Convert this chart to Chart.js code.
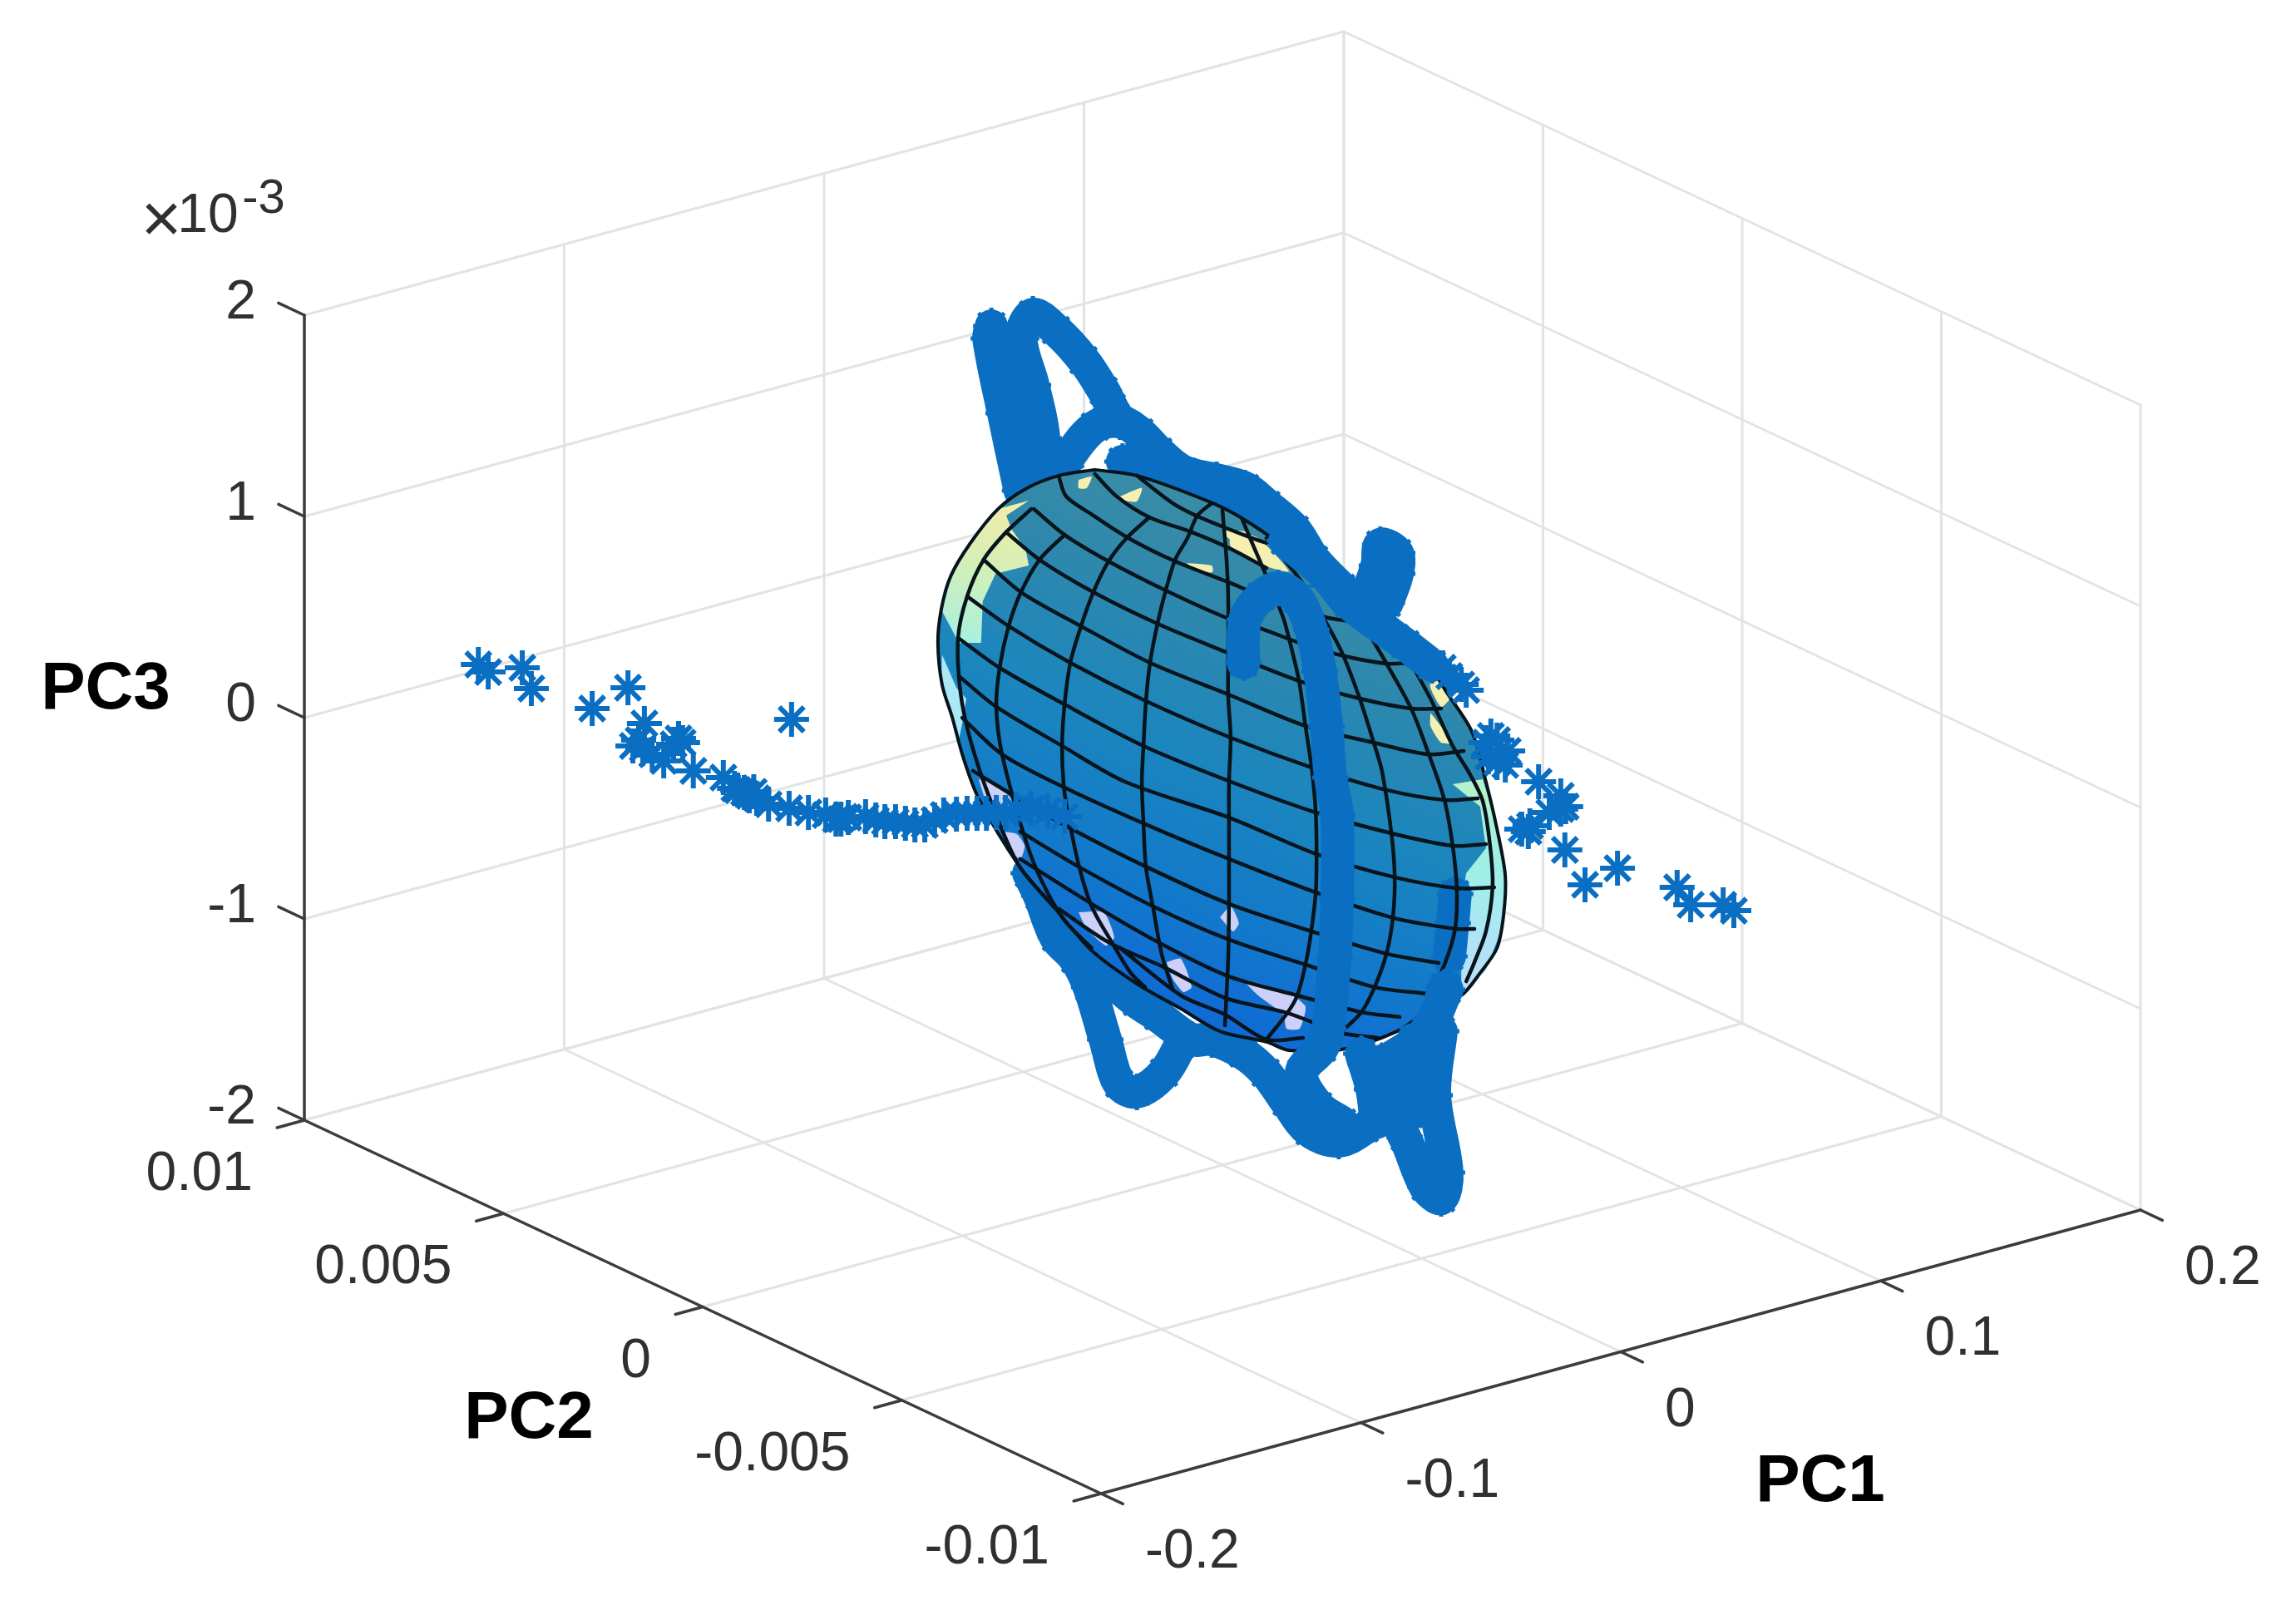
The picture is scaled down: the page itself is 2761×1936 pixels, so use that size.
<!DOCTYPE html>
<html lang="en">
<head>
    <meta charset="UTF-8">
    <title>PC1 PC2 PC3</title>
    <style>
        html, body { margin: 0; background: #fff; }
        #wrap { width: 2761px; height: 1936px; }
    </style>
</head>
<body>
<div id="wrap"><canvas id="myChart"></canvas></div>

<script src="https://cdn.jsdelivr.net/npm/chart.js"></script>
<script>
    // axis ticks
    const pc1Ticks = [-0.2, -0.1, 0, 0.1, 0.2];
    const pc2Ticks = [-0.01, -0.005, 0, 0.005, 0.01];
    const pc3Ticks = [-2, -1, 0, 1, 2]; // x 10^-3
    const pc1TickLabels = ["-0.2", "-0.1", "0", "0.1", "0.2"];
    const pc2TickLabels = ["-0.01", "-0.005", "0", "0.005", "0.01"];
    const pc3TickLabels = ["-2", "-1", "0", "1", "2"];

    // The picture gives no depth, so every mark below is read as PC1 / PC3 on the
    // upright plane through the origin that faces the camera (pc2 = facingPlane * pc1).
    const facingPlane = -0.03797;

    // stars, left tail
    const leftTailPc1 = [-.1810,-.1786,-.1703,-.1681,-.1533,-.1446,-.1406,-.1434,-.1410,-.1420,-.1323,-.1313,-.1335,-.1359,-.1387,-.1287,-.1214,-.1187,-.1179,-.1163,-.1151,-.1140,-.1133,-.1104,-.1054,-.1007,-.0965,-.0940,-.0928,-.0910,-.0868,-.0843,-.0821,-.0795,-.0771,-.0748,-.0724,-.0700,-.0678,-.0647,-.0621,-.0597,-.0574,-.0550,-.0528,-.0502,-.0465,-.0425,-.0384,-.1048];
    const leftTailPc3 = [.488,.450,.471,.368,.269,.372,.194,.083,.070,.112,.120,.099,.091,.008,.041,-.041,-.074,-.128,-.136,-.149,-.165,-.145,-.178,-.207,-.227,-.248,-.260,-.281,-.281,-.273,-.269,-.285,-.293,-.293,-.302,-.310,-.310,-.285,-.260,-.256,-.252,-.252,-.252,-.248,-.248,-.231,-.227,-.240,-.269,.215];

    // stars, right tail
    const rightTailPc1 = [.0536,.0552,.0581,.0593,.0641,.0653,.0668,.0668,.0694,.0688,.0668,.0647,.0769,.0823,.0835,.0823,.0795,.0748,.0728,.0744,.0833,.0961,.0882,.1106,.1139,.1218,.1244];
    const rightTailPc3 = [.471,.430,.388,.360,.099,.132,.041,.112,.058,-.012,0,.029,-.095,-.165,-.219,-.231,-.248,-.314,-.331,-.343,-.434,-.525,-.607,-.620,-.707,-.707,-.736];

    // dense star trajectories that pass behind the ellipsoid
    const backBandPc1 = [
        [-.0492,-.0532,-.0568,-.0562],
        [-.0469,-.0496,-.0526],
        [-.0445,-.0435,-.0461,-.0490,-.0461,-.0405,-.0338,-.0289,-.0269,-.0249],
        [-.0405,-.0370,-.0310,-.0249,-.0202,-.0156,-.0095,-.0014,.0055,.0107,.0176,.0223,.0289,.0358,.0419,.0479,.0536],
        [-.0243,-.0142,-.0020,.0101],
        [.0344,.0376,.0384,.0425,.0425,.0400],
        [-.0471,-.0445,-.0405,-.0358,-.0324,-.0285,-.0251,-.0208,-.0142,-.0095],
        [-.0445,-.0364,-.0283,-.0182],
        [-.0358,-.0289,-.0208,-.0156,-.0075,-.0026,.0051,.0105,.0156,.0212,.0283,.0346,.0400,.0443,.0494,.0532,.0546,.0516,.0532]
    ];
    const backBandPc3 = [
        [1.351,1.736,2.107,2.169],
        [1.393,1.723,2.054],
        [1.393,1.612,1.876,2.107,2.227,2.149,2.000,1.847,1.764,1.694],
        [1.393,1.529,1.669,1.694,1.640,1.545,1.446,1.405,1.364,1.281,1.157,1.008,.868,.731,.620,.512,.421],
        [1.496,1.475,1.351,1.207],
        [.793,.979,1.083,1.041,.938,.793],
        [-.550,-.661,-.868,-.975,-1.116,-1.376,-1.595,-1.636,-1.541,-1.376],
        [-.591,-.818,-.983,-1.149],
        [-.975,-1.058,-1.190,-1.260,-1.376,-1.376,-1.446,-1.541,-1.686,-1.831,-1.880,-1.818,-1.736,-1.860,-2.107,-2.165,-2.037,-1.653,-1.335]
    ];

    // part of the right strand seen through the mesh
    const sideBandPc1 = [.0566,.0560,.0552];
    const sideBandPc3 = [-.653,-.798,-.963];

    // trajectories in front of the ellipsoid
    const frontBandPc1 = [
        [.0051,.0055,.0095,.0136,.0182,.0216,.0237,.0253,.0263,.0279,.0279,.0273,.0257,.0243,.0192,.0233,.0291],
        [.0152,.0247,.0307,.0445,.0510],
        [.0540,.0512,.0485],
        [.0338,.0364,.0374],
        [.0409,.0415],
        [.0354,.0415,.0496,.0546],
        [.0465,.0455]
    ];
    const frontBandPc3 = [
        [.496,.711,.826,.868,.814,.661,.455,.182,-.074,-.260,-.674,-.975,-1.322,-1.417,-1.541,-1.707,-1.789],
        [1.103,.938,.793,.587,.483],
        [-1.116,-1.322,-1.529],
        [-1.446,-1.624,-1.789],
        [-1.521,-1.769],
        [-1.508,-1.459,-1.335,-1.128],
        [-1.376,-1.748]
    ];

    // ellipsoid silhouette
    const outlinePc1 = [-.0310,-.0398,-.0479,-.0546,-.0613,-.0661,-.0684,-.0692,-.0682,-.0657,-.0631,-.0593,-.0492,-.0411,-.0318,-.0208,-.0101,-.0006,.0107,.0162,.0289,.0425,.0500,.0581,.0627,.0668,.0684,.0688,.0668,.0641,.0607,.0546,.0506,.0439,.0303,.0243,.0148,.0047,-.0034,-.0208,-.0310];
    const outlinePc3 = [1.455,1.426,1.360,1.260,1.091,.926,.760,.595,.388,.223,.029,-.178,-.521,-.715,-.934,-1.099,-1.223,-1.335,-1.388,-1.430,-1.426,-1.335,-1.231,-1.157,-1.045,-.921,-.756,-.562,-.331,-.095,.153,.347,.471,.566,.773,.909,1.074,1.215,1.298,1.426,1.455];

    // ellipsoid mesh, long lines
    const meridianPc1 = [
        [-.0465,-.0526,-.0581,-.0621,-.0643,-.0637,-.0613,-.0566,-.0496,-.0411],
        [-.0384,-.0445,-.0490,-.0520,-.0542,-.0550,-.0536,-.0479,-.0439,-.0384,-.0318],
        [-.0178,-.0233,-.0277,-.0314,-.0344,-.0370,-.0384,-.0390,-.0386,-.0374,-.0348,-.0318,-.0269,-.0223,-.0188],
        [-.0026,-.0061,-.0085,-.0115,-.0138,-.0158,-.0176,-.0186,-.0192,-.0196,-.0192,-.0186,-.0168,-.0148,-.0121],
        [0,.0010,.0014,.0014,.0014,.0020,.0016,.0016,.0016,.0016,.0014,.0006],
        [.0047,.0067,.0107,.0148,.0162,.0186,.0202,.0218,.0227,.0229,.0227,.0216,.0202,.0182,.0158,.0107],
        [.0107,.0198,.0257,.0293,.0334,.0368,.0388,.0411,.0419,.0415,.0399,.0370,.0338,.0287],
        [.0148,.0299,.0338,.0399,.0459,.0502,.0540,.0560,.0570,.0566,.0540,.0502],
        [.0439,.0506,.0560,.0601,.0633,.0651,.0657,.0641,.0613,.0593]
    ];
    const meridianPc3 = [
        [1.260,1.145,1.008,.826,.620,.347,.112,-.178,-.508,-.715],
        [1.132,1.008,.847,.678,.471,.277,.041,-.384,-.591,-.785,-.921],
        [1.219,1.116,1.000,.847,.678,.496,.289,.083,-.116,-.273,-.521,-.715,-.893,-1.045,-1.116],
        [1.289,1.227,1.116,1.008,.855,.690,.496,.306,.083,-.095,-.302,-.521,-.727,-.950,-1.128],
        [1.256,1.008,.826,.554,.331,.124,-.095,-.289,-.496,-.702,-.975,-1.306],
        [1.215,1.116,.926,.719,.616,.409,.182,-.041,-.248,-.455,-.645,-.839,-1.004,-1.157,-1.244,-1.376],
        [1.116,.884,.678,.537,.318,.099,-.041,-.351,-.562,-.764,-.950,-1.116,-1.240,-1.343],
        [1.074,.781,.698,.492,.269,.041,-.186,-.413,-.620,-.826,-1.004,-1.157],
        [.566,.318,.083,-.054,-.190,-.413,-.620,-.839,-.992,-1.087]
    ];

    // ellipsoid mesh, cross lines
    const parallelPc1 = [
        [-.0398,-.0380,-.0320,-.0229,-.0115,.0014,.0087,.0249,.0334,.0378],
        [-.0310,-.0257,-.0178,-.0075,.0020,.0107],
        [-.0208,-.0121,-.0055,.0071,.0107],
        [-.0459,-.0384,-.0277,-.0138,.0010,.0101,.0182,.0289,.0399,.0459],
        [-.0526,-.0445,-.0314,-.0158,.0014,.0182,.0334,.0459,.0532],
        [-.0581,-.0490,-.0344,-.0176,.0014,.0202,.0368,.0502,.0587],
        [-.0621,-.0520,-.0370,-.0186,.0020,.0218,.0399,.0540,.0621],
        [-.0643,-.0542,-.0384,-.0192,.0020,.0227,.0411,.0560,.0641],
        [-.0641,-.0550,-.0390,-.0237,.0016,.0229,.0419,.0570,.0661],
        [-.0633,-.0536,-.0384,-.0192,.0016,.0227,.0411,.0566,.0613],
        [-.0607,-.0490,-.0374,-.0186,.0016,.0218,.0399,.0526],
        [-.0492,-.0350,-.0168,.0016,.0202,.0370,.0502],
        [-.0492,-.0318,-.0156,.0010,.0182,.0338,.0431],
        [-.0398,-.0277,-.0142,.0006,.0158,.0289,.0378],
        [-.0249,-.0101,.0006,.0107,.0196]
    ];
    const parallelPc3 = [
        [1.421,1.322,1.236,1.116,1.000,.897,.835,.723,.698,.698],
        [1.434,1.322,1.219,1.145,1.062,.967],
        [1.426,1.289,1.219,1.116,1.091],
        [1.260,1.132,1.000,.855,.719,.661,.599,.533,.492,.496],
        [1.145,1.008,.847,.690,.545,.409,.318,.269,.269],
        [1.008,.847,.678,.496,.339,.182,.099,.041,.058],
        [.826,.678,.496,.306,.124,-.025,-.136,-.186,-.178],
        [.620,.471,.289,.083,-.095,-.248,-.351,-.413,-.405],
        [.430,.277,.083,-.095,-.273,-.455,-.570,-.624,-.620],
        [.223,.041,-.124,-.302,-.479,-.645,-.769,-.826,-.826],
        [-.041,-.186,-.322,-.517,-.702,-.839,-.950,-.996],
        [-.343,-.517,-.715,-.880,-1.004,-1.116,-1.149],
        [-.479,-.702,-.893,-1.058,-1.157,-1.240,-1.264],
        [-.727,-.893,-1.017,-1.169,-1.244,-1.343,-1.368],
        [-.921,-1.157,-1.252,-1.376,-1.368]
    ];

    // pale patches on the surface
    const mintPatchPc1 = [-.0471,-.0526,-.0512,-.0479,-.0471,-.0552,-.0583,-.0587,-.0641,-.0684,-.0661,-.0613,-.0546,-.0471];
    const mintPatchPc3 = [1.302,1.227,1.157,1.062,.979,.938,.802,.595,.595,.760,.926,1.091,1.260,1.302];
    const skyPatchPc1 = [-.0682,-.0647,-.0623,-.0633,-.0641,-.0661,-.0684,-.0682];
    const skyPatchPc3 = [.537,.372,.318,.194,.112,.236,.413,.537];
    const rightPatchPc1 = [.0560,.0633,.0668,.0688,.0682,.0641,.0581,.0581,.0581,.0593,.0641,.0627,.0560];
    const rightPatchPc3 = [-.107,-.083,-.314,-.562,-.810,-1.033,-1.157,-.975,-.702,-.550,-.426,-.219,-.107];
    const lavenderPatchPc1 = [
        [-.0593,-.0552,-.0512,-.0546,-.0572,-.0593],
        [-.0532,-.0500,-.0481,-.0492,-.0520,-.0532],
        [-.0350,-.0289,-.0263,-.0283,-.0330,-.0350],
        [-.0136,-.0101,-.0075,-.0095,-.0121,-.0136],
        [-.0006,.0020,.0040,.0026,-.0006],
        [.0047,.0156,.0202,.0188,.0156,.0148,.0087,.0047]
    ];
    const lavenderPatchPc3 = [
        [-.083,-.107,-.190,-.248,-.207,-.083],
        [-.343,-.355,-.413,-.479,-.426,-.343],
        [-.744,-.744,-.868,-.909,-.826,-.744],
        [-.992,-.975,-1.116,-1.140,-1.074,-.992],
        [-.769,-.715,-.798,-.839,-.769],
        [-1.074,-1.140,-1.211,-1.322,-1.322,-1.252,-1.157,-1.074]
    ];
    const yellowPatchPc1 = [
        [-.0350,-.0318,-.0330,-.0350,-.0350],
        [-.0249,-.0196,-.0208,-.0237,-.0249],
        [-.0087,-.0026,-.0024,-.0061,-.0087],
        [0,.0061,.0061,.0014,0],
        [.0020,.0087,.0162,.0101,.0020,.0020],
        [.0506,.0552,.0532,.0506,.0506],
        [.0506,.0560,.0532,.0506,.0506]
    ];
    const yellowPatchPc3 = [
        [1.405,1.421,1.364,1.364,1.405],
        [1.322,1.364,1.298,1.302,1.322],
        [.992,.979,.946,.950,.992],
        [1.153,1.145,1.074,1.116,1.153],
        [1.157,1.116,.950,.979,1.074,1.157],
        [.455,.318,.277,.372,.455],
        [.248,.099,.099,.182,.248]
    ];

    const BAND_BLUE = "#0a6fc2";
    const GRID_GREY = "#e3e3e3";
    const AXIS_GREY = "#3c3c3c";
    const MESH_BLACK = "#07141c";

    // camera of the 3d axes, view units
    function view(pc1, pc2, pc3) {
        return {
            x: 3125 * pc1 - 47900 * pc2,
            y: 852.5 * pc1 + 22450 * pc2 + 242 * pc3
        };
    }

    function onFacingPlane(pc1s, pc3s) {
        return pc1s.map((v, i) => view(v, facingPlane * v, pc3s[i]));
    }

    function lineSet(points, color, width) {
        return {
            data: points, showLine: true, borderColor: color, borderWidth: width,
            pointRadius: 0, borderCapStyle: "round", borderJoinStyle: "round", clip: false
        };
    }

    function bandSet(pc1s, pc3s) {
        return Object.assign(lineSet(onFacingPlane(pc1s, pc3s), BAND_BLUE, 40), {
            tension: 0.35, pointRadius: 22, pointStyle: "star",
            pointBorderColor: BAND_BLUE, pointBorderWidth: 5
        });
    }

    function starSet(pc1s, pc3s) {
        return {
            data: onFacingPlane(pc1s, pc3s), showLine: false, pointStyle: "star", pointRadius: 21,
            pointBorderColor: BAND_BLUE, pointBorderWidth: 6, clip: false
        };
    }

    function meshSet(pc1s, pc3s, width) {
        return Object.assign(lineSet(onFacingPlane(pc1s, pc3s), MESH_BLACK, width), {tension: 0.3});
    }

    // gradient running between two points given in PC1 / PC3
    function shade(from, to, stops) {
        return function (ctx) {
            const scales = ctx.chart.scales;
            const a = view(from[0], facingPlane * from[0], from[1]);
            const b = view(to[0], facingPlane * to[0], to[1]);
            const pts = scales.x && scales.y ? [
                scales.x.getPixelForValue(a.x), scales.y.getPixelForValue(a.y),
                scales.x.getPixelForValue(b.x), scales.y.getPixelForValue(b.y)] : [NaN];
            if (!pts.every(Number.isFinite)) return stops[0][1];
            const g = ctx.chart.ctx.createLinearGradient(pts[0], pts[1], pts[2], pts[3]);
            stops.forEach(s => g.addColorStop(s[0], s[1]));
            return g;
        };
    }

    function fillSet(pc1s, pc3s, color, tension) {
        return {
            data: onFacingPlane(pc1s, pc3s), showLine: true, fill: "shape", backgroundColor: color,
            borderWidth: 0, borderColor: "transparent", pointRadius: 0, tension: tension, clip: false
        };
    }

    function boxDatasets() {
        const sets = [];
        const grid = (a, b) => sets.push(lineSet([view(a[0], a[1], a[2]), view(b[0], b[1], b[2])], GRID_GREY, 3));
        const top = pc3Ticks[4], bottom = pc3Ticks[0];
        const x0 = pc1Ticks[0], x1 = pc1Ticks[4], y0 = pc2Ticks[0], y1 = pc2Ticks[4];
        pc1Ticks.forEach(t => {
            grid([t, y0, bottom], [t, y1, bottom]);
            grid([t, y1, bottom], [t, y1, top]);
        });
        pc2Ticks.forEach(t => {
            grid([x0, t, bottom], [x1, t, bottom]);
            grid([x1, t, bottom], [x1, t, top]);
        });
        pc3Ticks.forEach(t => {
            grid([x0, y1, t], [x1, y1, t]);
            grid([x1, y1, t], [x1, y0, t]);
        });
        const axis = (a, b) => sets.push(lineSet([view(a[0], a[1], a[2]), view(b[0], b[1], b[2])], AXIS_GREY, 3.5));
        axis([x0, y0, bottom], [x1, y0, bottom]);
        axis([x0, y1, bottom], [x0, y0, bottom]);
        axis([x0, y1, bottom], [x0, y1, top]);
        pc1Ticks.forEach(t => axis([t, y0, bottom], [t, y0 - 0.00055, bottom]));
        pc2Ticks.forEach(t => axis([x0, t, bottom], [x0 - 0.0105, t, bottom]));
        pc3Ticks.forEach(t => axis([x0, y1, t], [x0, y1 + 0.00065, t]));
        return sets;
    }

    const tickText = {
        id: "tickText",
        afterDraw(chart) {
            const c = chart.ctx, sx = chart.scales.x, sy = chart.scales.y;
            const px = p => [sx.getPixelForValue(p.x), sy.getPixelForValue(p.y)];
            const put = (str, x, y, align, font, color) => {
                c.font = font;
                c.fillStyle = color;
                c.textAlign = align;
                c.textBaseline = "middle";
                c.fillText(str, x, y);
            };
            const tickFont = '66px "Liberation Sans"', tickColor = "#303030";
            const titleFont = 'bold 80px "Liberation Sans"';
            c.save();
            pc1Ticks.forEach((t, i) => {
                const p = px(view(t, pc2Ticks[0], pc3Ticks[0]));
                put(pc1TickLabels[i], p[0] + 53, p[1] + 71, "left", tickFont, tickColor);
            });
            pc2Ticks.forEach((t, i) => {
                const p = px(view(pc1Ticks[0], t, pc3Ticks[0]));
                put(pc2TickLabels[i], p[0] - 62, p[1] + 66, "right", tickFont, tickColor);
            });
            pc3Ticks.forEach((t, i) => {
                const p = px(view(pc1Ticks[0], pc2Ticks[4], t));
                put(pc3TickLabels[i], p[0] - 58, p[1] - 14, "right", tickFont, tickColor);
            });
            const topTick = px(view(pc1Ticks[0], pc2Ticks[4], pc3Ticks[4]));
            put("\u00d7", topTick[0] - 172, topTick[1] - 111, "center", '84px "Liberation Sans"', tickColor);
            put("10", topTick[0] - 116, topTick[1] - 118, "center", tickFont, tickColor);
            put("-3", topTick[0] - 49, topTick[1] - 139, "center", '58px "Liberation Sans"', tickColor);
            const floorFront = px(view(pc1Ticks[0], pc2Ticks[0], pc3Ticks[0]));
            const floorLeft = px(view(pc1Ticks[0], pc2Ticks[4], pc3Ticks[0]));
            put("PC1", floorFront[0] + 865, floorFront[1] - 13, "center", titleFont, "#000");
            put("PC2", floorFront[0] - 688, floorFront[1] - 89, "center", titleFont, "#000");
            put("PC3", floorLeft[0] - 239, floorLeft[1] - 517, "center", titleFont, "#000");
            c.restore();
        }
    };

    function init() {
        const sets = boxDatasets();

        backBandPc1.forEach((v, i) => sets.push(bandSet(v, backBandPc3[i])));

        // surface
        sets.push(fillSet(outlinePc1, outlinePc3, shade([.0300, 1.45], [-.0300, -1.45], [
            [0, "#42909f"], [0.28, "#2f88ac"], [0.5, "#1c86bd"], [0.72, "#1279cb"], [1, "#0e60dc"]
        ]), 0.3));
        sets.push(fillSet(mintPatchPc1, mintPatchPc3, shade([-.05, 1.3], [-.06, .6], [
            [0, "#f4ecaa"], [0.5, "#d4efb6"], [1, "#aaf0de"]
        ]), 0));
        sets.push(fillSet(skyPatchPc1, skyPatchPc3, "#abe8f6", 0));
        sets.push(fillSet(rightPatchPc1, rightPatchPc3, shade([.06, -.1], [.06, -1.15], [
            [0, "#b6f2c8"], [0.4, "#9fefe6"], [0.7, "#ace6f5"], [1, "#bfdcf8"]
        ]), 0));
        lavenderPatchPc1.forEach((v, i) => sets.push(fillSet(v, lavenderPatchPc3[i], "#cdd0f8", 0.2)));
        yellowPatchPc1.forEach((v, i) => sets.push(fillSet(v, yellowPatchPc3[i], "#f6efb2", 0.2)));
        sets.push(bandSet(sideBandPc1, sideBandPc3));

        // mesh on top of the surface
        meridianPc1.forEach((v, i) => sets.push(meshSet(v, meridianPc3[i], 4.5)));
        parallelPc1.forEach((v, i) => sets.push(meshSet(v, parallelPc3[i], 4.5)));
        sets.push(meshSet(outlinePc1, outlinePc3, 4));

        // strands and stars in front
        frontBandPc1.forEach((v, i) => sets.push(bandSet(v, frontBandPc3[i])));
        sets.push(starSet(leftTailPc1, leftTailPc3));
        sets.push(starSet(rightTailPc1, rightTailPc3));

        // first in the list is painted first
        sets.forEach((s, i) => { s.order = sets.length - i; });

        new Chart(document.getElementById("myChart").getContext("2d"), {
            type: "scatter",
            data: {datasets: sets},
            options: {
                animation: false,
                responsive: true,
                maintainAspectRatio: false,
                layout: {padding: 0, autoPadding: false},
                plugins: {legend: {display: false}, tooltip: {enabled: false}},
                scales: {
                    x: {type: "linear", display: false, min: -1470, max: 1291},
                    y: {type: "linear", display: false, min: -1019, max: 917}
                }
            },
            plugins: [tickText]
        });
    }

    document.addEventListener("DOMContentLoaded", init);
</script>
</body>
</html>
